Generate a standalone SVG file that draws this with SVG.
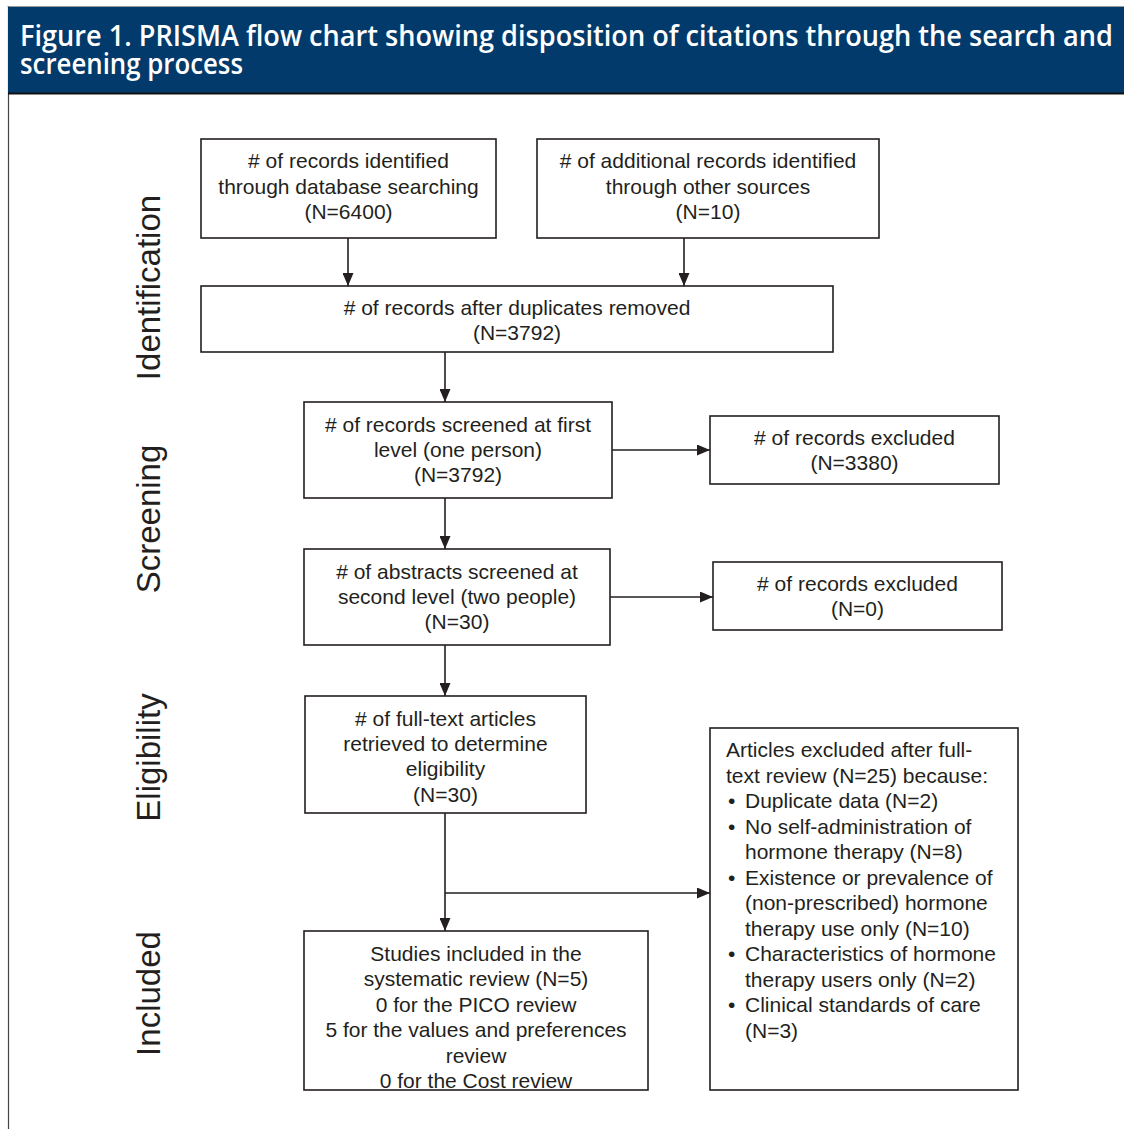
<svg xmlns="http://www.w3.org/2000/svg" width="1124" height="1129" viewBox="0 0 1124 1129">
<defs>
<style>
.t{font-family:"Liberation Sans",Arial,sans-serif;font-size:21px;fill:#231f20;text-anchor:middle}
.tl{font-family:"Liberation Sans",Arial,sans-serif;font-size:21px;fill:#231f20}
.side{font-family:"Liberation Sans",Arial,sans-serif;font-size:33px;fill:#231f20;text-anchor:middle}
.box{fill:#fff;stroke:#231f20;stroke-width:1.6}
.ln{fill:none;stroke:#231f20;stroke-width:1.6}
.title{font-family:"Open Sans","DejaVu Sans",sans-serif;font-weight:600;font-size:29px;fill:#fff}
</style>
<marker id="ah" viewBox="0 0 13 11" refX="13" refY="5.5" markerWidth="13" markerHeight="11" markerUnits="userSpaceOnUse" orient="auto">
<path d="M0,0 L13,5.5 L0,11 Z" fill="#231f20"/>
</marker>
</defs>
<rect x="0" y="0" width="1124" height="1129" fill="#fff"/>
<g id="frame">
<line x1="7.5" y1="6.5" x2="1124" y2="6.5" stroke="#9a9a9a" stroke-width="1"/>
<line x1="8.5" y1="6.5" x2="8.5" y2="1129" stroke="#444" stroke-width="1.2"/>
<rect x="8" y="7" width="1116" height="86" fill="#023a6b"/>
<line x1="8" y1="93.5" x2="1124" y2="93.5" stroke="#111" stroke-width="2"/>
<text class="title" x="20" y="46" textLength="1093" lengthAdjust="spacingAndGlyphs">Figure 1. PRISMA flow chart showing disposition of citations through the search and</text>
<text class="title" x="20" y="74" textLength="223" lengthAdjust="spacingAndGlyphs">screening process</text>
</g>
<g id="phase-labels">
<text class="side" transform="translate(160,287.5) rotate(-90)">Identification</text>
<text class="side" transform="translate(160,519) rotate(-90)">Screening</text>
<text class="side" transform="translate(160,757.5) rotate(-90)">Eligibility</text>
<text class="side" transform="translate(160,993.5) rotate(-90)">Included</text>
</g>
<g id="connectors">
<line class="ln" x1="348" y1="238" x2="348" y2="286" marker-end="url(#ah)"/>
<line class="ln" x1="684" y1="238" x2="684" y2="286" marker-end="url(#ah)"/>
<line class="ln" x1="445" y1="352" x2="445" y2="402" marker-end="url(#ah)"/>
<line class="ln" x1="612" y1="450" x2="710" y2="450" marker-end="url(#ah)"/>
<line class="ln" x1="445" y1="498" x2="445" y2="549" marker-end="url(#ah)"/>
<line class="ln" x1="610" y1="597" x2="713" y2="597" marker-end="url(#ah)"/>
<line class="ln" x1="445" y1="645" x2="445" y2="696" marker-end="url(#ah)"/>
<line class="ln" x1="445" y1="813" x2="445" y2="931" marker-end="url(#ah)"/>
<line class="ln" x1="445" y1="893" x2="710" y2="893" marker-end="url(#ah)"/>
</g>
<g id="n-database">
<rect class="box" x="201" y="139" width="295" height="99"/>
<text class="t"><tspan x="348.5" y="168"># of records identified</tspan><tspan x="348.5" y="193.5">through database searching</tspan><tspan x="348.5" y="219">(N=6400)</tspan></text>
</g>
<g id="n-other">
<rect class="box" x="537" y="139" width="342" height="99"/>
<text class="t"><tspan x="708" y="168"># of additional records identified</tspan><tspan x="708" y="193.5">through other sources</tspan><tspan x="708" y="219">(N=10)</tspan></text>
</g>
<g id="n-dedup">
<rect class="box" x="201" y="286" width="632" height="66"/>
<text class="t"><tspan x="517" y="315"># of records after duplicates removed</tspan><tspan x="517" y="340">(N=3792)</tspan></text>
</g>
<g id="n-screen1">
<rect class="box" x="304" y="402" width="308" height="96"/>
<text class="t"><tspan x="458" y="432"># of records screened at first</tspan><tspan x="458" y="457">level (one person)</tspan><tspan x="458" y="482">(N=3792)</tspan></text>
</g>
<g id="n-excl1">
<rect class="box" x="710" y="416" width="289" height="68"/>
<text class="t"><tspan x="854.5" y="445"># of records excluded</tspan><tspan x="854.5" y="470">(N=3380)</tspan></text>
</g>
<g id="n-screen2">
<rect class="box" x="304" y="549" width="306" height="96"/>
<text class="t"><tspan x="457" y="579"># of abstracts screened at</tspan><tspan x="457" y="604">second level (two people)</tspan><tspan x="457" y="629">(N=30)</tspan></text>
</g>
<g id="n-excl2">
<rect class="box" x="713" y="562" width="289" height="68"/>
<text class="t"><tspan x="857.5" y="591"># of records excluded</tspan><tspan x="857.5" y="616">(N=0)</tspan></text>
</g>
<g id="n-fulltext">
<rect class="box" x="305" y="696" width="281" height="117"/>
<text class="t"><tspan x="445.5" y="726"># of full-text articles</tspan><tspan x="445.5" y="751">retrieved to determine</tspan><tspan x="445.5" y="776">eligibility</tspan><tspan x="445.5" y="802">(N=30)</tspan></text>
</g>
<g id="n-included">
<rect class="box" x="304" y="931" width="344" height="159"/>
<text class="t"><tspan x="476" y="961">Studies included in the</tspan><tspan x="476" y="986">systematic review (N=5)</tspan><tspan x="476" y="1012">0 for the PICO review</tspan><tspan x="476" y="1037">5 for the values and preferences</tspan><tspan x="476" y="1063">review</tspan><tspan x="476" y="1088">0 for the Cost review</tspan></text>
</g>
<g id="n-excl3">
<rect class="box" x="710" y="728" width="308" height="362"/>
<text class="tl"><tspan x="726" y="757">Articles excluded after full-</tspan><tspan x="726" y="783">text review (N=25) because:</tspan><tspan x="728" y="808">•</tspan><tspan x="745" y="808">Duplicate data (N=2)</tspan><tspan x="728" y="834">•</tspan><tspan x="745" y="834">No self-administration of</tspan><tspan x="745" y="859">hormone therapy (N=8)</tspan><tspan x="728" y="885">•</tspan><tspan x="745" y="885">Existence or prevalence of</tspan><tspan x="745" y="910">(non-prescribed) hormone</tspan><tspan x="745" y="936">therapy use only (N=10)</tspan><tspan x="728" y="961">•</tspan><tspan x="745" y="961">Characteristics of hormone</tspan><tspan x="745" y="987">therapy users only (N=2)</tspan><tspan x="728" y="1012">•</tspan><tspan x="745" y="1012">Clinical standards of care</tspan><tspan x="745" y="1038">(N=3)</tspan></text>
</g>
</svg>
